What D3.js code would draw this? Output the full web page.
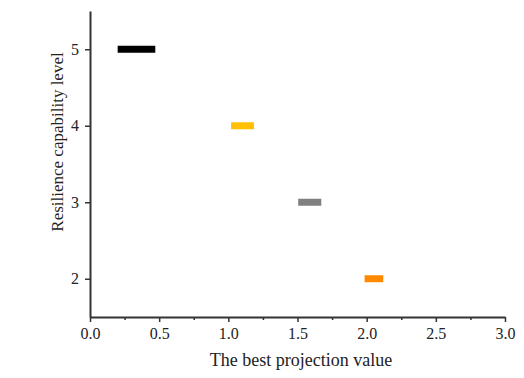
<!DOCTYPE html>
<html>
<head>
<meta charset="utf-8">
<script src="https://cdn.jsdelivr.net/npm/d3@7"></script>
<style>
  body { margin: 0; background: #fff; }
  svg text { font-family: "Liberation Serif", "Times New Roman", serif; }
</style>
</head>
<body>
<div id="chart"></div>
<script>
// data
const levels = [5, 4, 3, 2];
const startValues = [0.2, 1.02, 1.505, 1.985];
const endValues = [0.472, 1.185, 1.672, 2.12];
const colors = ['#000000', '#ffc000', '#808080', '#ff8a00'];
const xTicks = [0, 0.5, 1, 1.5, 2, 2.5, 3];
const xMinorTicks = [0.25, 0.75, 1.25, 1.75, 2.25, 2.75];
const yTicks = [2, 3, 4, 5];

function drawChart() {
    const W = 524, H = 378;
    const margin = { top: 11, right: 19, bottom: 61, left: 90 };
    const width = W - margin.left - margin.right;
    const height = H - margin.top - margin.bottom;

    const svg = d3.select('#chart')
        .append('svg')
        .attr('width', W)
        .attr('height', H);

    const g = svg.append('g')
        .attr('transform', `translate(${margin.left},${margin.top})`);

    const x = d3.scaleLinear().domain([0, 3]).range([0, width]);
    const y = d3.scaleLinear().domain([1.5, 5.5]).range([height, 0]);

    // bars
    g.selectAll('.bar')
        .data(levels)
        .enter().append('rect')
        .attr('class', 'bar')
        .attr('x', (d, i) => x(startValues[i]))
        .attr('width', (d, i) => x(endValues[i]) - x(startValues[i]))
        .attr('y', d => y(d) - 3.5)
        .attr('height', 7)
        .attr('fill', (d, i) => colors[i]);

    // minor ticks on x
    g.append('g')
        .attr('transform', `translate(0,${height})`)
        .call(d3.axisBottom(x).tickValues(xMinorTicks).tickSize(3).tickFormat(''))
        .call(a => a.select('.domain').remove())
        .selectAll('line').attr('stroke', '#333').attr('stroke-width', 1.5);

    const xAxis = g.append('g')
        .attr('transform', `translate(0,${height})`)
        .call(d3.axisBottom(x).tickValues(xTicks).tickSize(5).tickSizeOuter(0).tickPadding(6)
            .tickFormat(d3.format('.1f')));

    const yAxis = g.append('g')
        .call(d3.axisLeft(y).tickValues(yTicks).tickSize(5).tickSizeOuter(0).tickPadding(6)
            .tickFormat(d3.format('d')));

    [xAxis, yAxis].forEach(a => {
        a.select('.domain').attr('stroke', '#333').attr('stroke-width', 2);
        a.selectAll('line').attr('stroke', '#333').attr('stroke-width', 1.5);
        a.selectAll('text').attr('font-size', 16).attr('fill', '#222')
            .style('font-family', '"Liberation Serif", serif');
    });

    // axis titles
    svg.append('text')
        .attr('x', 301)
        .attr('y', 366)
        .attr('text-anchor', 'middle')
        .attr('font-size', 18)
        .attr('fill', '#222')
        .text('The best projection value');

    svg.append('text')
        .attr('transform', 'rotate(-90)')
        .attr('x', -142)
        .attr('y', 63)
        .attr('text-anchor', 'middle')
        .attr('font-size', 17)
        .attr('fill', '#222')
        .text('Resilience capability level');
}

drawChart();
</script>
</body>
</html>
